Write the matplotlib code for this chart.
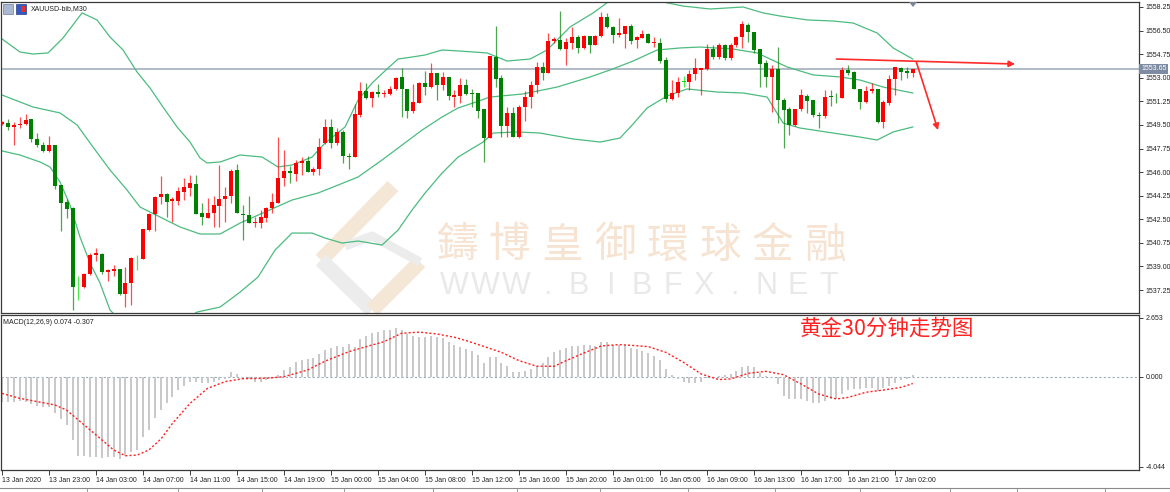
import numpy as np
import matplotlib.pyplot as plt
from matplotlib.lines import Line2D
from matplotlib.patches import Polygon, Rectangle
from matplotlib.transforms import blended_transform_factory

plt.rcParams['font.family'] = ['Liberation Sans', 'DejaVu Sans']

# XAUUSD M30 candles, 13 Jan 2020 00:00 onwards
opens = [1549.60, 1549.62, 1549.32, 1549.50, 1549.55, 1549.94, 1548.46, 1548.00, 1547.57, 1548.00,
         1545.05, 1543.78, 1543.32, 1537.45, 1537.45, 1538.42, 1539.83, 1539.93, 1538.57, 1538.66,
         1538.81, 1536.94, 1537.75, 1539.60, 1539.55, 1541.70, 1542.89, 1544.15, 1544.35, 1543.85,
         1543.85, 1544.55, 1544.85, 1545.14, 1542.94, 1542.62, 1542.94, 1543.48, 1543.97, 1544.23,
         1546.16, 1542.90, 1542.82, 1542.20, 1542.20, 1542.57, 1543.32, 1543.73, 1545.54, 1546.11,
         1545.86, 1546.65, 1546.82, 1546.01, 1546.26, 1548.14, 1549.32, 1548.18, 1549.00, 1547.20,
         1547.10, 1550.24, 1552.02, 1551.52, 1551.95, 1551.77, 1551.80, 1552.14, 1553.08, 1552.14,
         1550.53, 1551.15, 1552.59, 1552.30, 1553.33, 1552.46, 1553.08, 1551.60, 1551.67, 1552.46,
         1551.85, 1551.85, 1550.66, 1548.51, 1554.57, 1552.96, 1549.42, 1550.41, 1548.63, 1550.85,
         1551.60, 1552.46, 1553.82, 1553.37, 1555.73, 1555.80, 1555.16, 1555.60, 1556.00, 1555.18,
         1556.10, 1555.43, 1556.10, 1557.49, 1556.79, 1556.17, 1556.22, 1556.84, 1555.80, 1555.93,
         1556.22, 1555.55, 1555.60, 1554.32, 1551.40, 1551.90, 1552.70, 1552.70, 1553.28, 1553.60,
         1553.63, 1555.10, 1554.57, 1555.43, 1554.45, 1555.43, 1556.05, 1556.92, 1556.42, 1555.10,
         1554.07, 1553.08, 1553.63, 1551.35, 1550.66, 1549.50, 1550.66, 1551.65, 1551.35, 1550.24,
         1550.16, 1551.65, 1551.60, 1551.52, 1553.58, 1553.45, 1552.14, 1551.23, 1552.04, 1552.14,
         1549.74, 1551.15, 1552.91, 1553.70, 1553.50, 1553.38]
highs = [1549.80, 1549.94, 1549.74, 1550.10, 1550.30, 1549.94, 1548.90, 1548.25, 1548.70, 1548.00,
         1545.05, 1544.00, 1543.45, 1538.30, 1538.55, 1540.00, 1540.37, 1540.00, 1538.79, 1539.10,
         1538.81, 1538.98, 1539.72, 1539.88, 1541.78, 1542.95, 1544.23, 1545.70, 1544.43, 1544.13,
         1544.88, 1545.54, 1545.79, 1545.79, 1543.69, 1544.05, 1544.23, 1546.53, 1544.92, 1546.22,
         1546.60, 1543.56, 1544.20, 1542.69, 1543.19, 1543.45, 1544.43, 1548.58, 1547.64, 1546.45,
         1546.90, 1547.10, 1547.17, 1546.40, 1548.50, 1549.92, 1549.92, 1549.30, 1549.12, 1547.44,
         1551.05, 1552.69, 1552.59, 1552.02, 1552.54, 1552.10, 1552.39, 1553.08, 1553.70, 1552.14,
         1552.54, 1552.70, 1553.50, 1554.07, 1553.38, 1553.45, 1553.08, 1552.10, 1553.00, 1552.90,
         1552.17, 1551.90, 1550.66, 1554.62, 1556.84, 1553.20, 1550.80, 1550.80, 1550.98, 1552.04,
         1552.76, 1554.19, 1554.19, 1556.30, 1556.00, 1557.98, 1555.93, 1556.80, 1556.17, 1556.20,
         1556.10, 1556.20, 1557.90, 1557.80, 1556.84, 1557.41, 1556.84, 1556.98, 1556.10, 1556.55,
         1556.30, 1556.00, 1555.93, 1554.52, 1552.83, 1553.08, 1553.13, 1553.58, 1554.45, 1553.70,
         1555.50, 1555.43, 1555.60, 1555.50, 1555.60, 1556.10, 1557.24, 1557.04, 1556.42, 1555.10,
         1554.32, 1553.95, 1555.30, 1551.48, 1550.85, 1550.70, 1552.14, 1551.80, 1551.35, 1550.48,
         1552.09, 1552.10, 1551.90, 1553.82, 1553.95, 1553.50, 1552.20, 1552.40, 1552.60, 1552.14,
         1551.35, 1553.20, 1553.82, 1553.82, 1553.82, 1553.63]
lows = [1549.50, 1549.12, 1548.00, 1549.30, 1549.50, 1548.24, 1547.86, 1547.50, 1547.50, 1544.75,
        1541.60, 1542.60, 1535.77, 1536.50, 1537.40, 1538.37, 1539.40, 1538.44, 1537.92, 1538.32,
        1536.89, 1536.02, 1536.14, 1538.74, 1539.55, 1541.60, 1541.65, 1543.60, 1542.69, 1542.32,
        1543.56, 1543.93, 1544.23, 1542.89, 1542.10, 1542.57, 1541.90, 1541.95, 1542.32, 1543.69,
        1542.94, 1540.96, 1542.20, 1541.95, 1541.82, 1542.32, 1542.99, 1543.69, 1544.97, 1545.22,
        1545.37, 1545.77, 1546.01, 1545.79, 1545.79, 1548.09, 1547.77, 1548.00, 1546.65, 1546.21,
        1547.10, 1550.11, 1551.40, 1550.85, 1551.60, 1551.55, 1551.72, 1552.09, 1550.07, 1550.00,
        1550.41, 1551.10, 1551.72, 1552.22, 1551.35, 1552.09, 1551.35, 1550.80, 1551.10, 1551.70,
        1550.85, 1549.99, 1546.73, 1548.51, 1552.30, 1548.63, 1548.63, 1548.63, 1548.51, 1549.81,
        1550.73, 1551.90, 1552.83, 1553.33, 1555.60, 1555.06, 1553.95, 1555.10, 1554.81, 1555.10,
        1554.81, 1555.40, 1556.05, 1556.70, 1555.55, 1556.05, 1555.20, 1555.50, 1555.20, 1555.93,
        1555.55, 1555.30, 1554.12, 1551.23, 1551.35, 1551.55, 1552.30, 1552.09, 1552.83, 1551.72,
        1553.60, 1554.37, 1554.40, 1554.32, 1554.32, 1555.30, 1555.18, 1555.68, 1554.81, 1552.30,
        1552.30, 1550.48, 1549.62, 1547.77, 1548.77, 1549.45, 1550.56, 1550.36, 1550.11, 1549.25,
        1549.99, 1550.90, 1551.10, 1551.52, 1553.20, 1552.14, 1550.66, 1551.10, 1551.90, 1549.67,
        1549.25, 1551.00, 1551.72, 1552.83, 1552.96, 1553.08]
closes = [1549.70, 1549.32, 1549.52, 1549.60, 1549.87, 1548.46, 1548.00, 1547.60, 1548.00, 1545.00,
          1543.73, 1543.27, 1537.45, 1537.45, 1538.44, 1539.88, 1539.98, 1538.57, 1538.74, 1538.79,
          1536.94, 1537.80, 1539.60, 1539.60, 1541.78, 1542.90, 1544.17, 1544.35, 1543.78, 1543.97,
          1544.60, 1544.92, 1545.17, 1542.89, 1542.69, 1542.99, 1543.56, 1543.97, 1544.23, 1546.11,
          1542.94, 1542.80, 1542.20, 1542.32, 1542.69, 1543.32, 1543.78, 1545.54, 1546.11, 1545.91,
          1546.70, 1546.82, 1546.01, 1546.21, 1547.84, 1549.32, 1548.18, 1549.00, 1547.20, 1547.15,
          1550.31, 1552.02, 1551.48, 1551.95, 1551.77, 1551.90, 1552.17, 1553.00, 1552.14, 1550.56,
          1551.23, 1552.59, 1552.30, 1553.33, 1552.46, 1553.08, 1551.65, 1551.72, 1552.46, 1551.80,
          1551.80, 1550.53, 1548.51, 1554.62, 1552.89, 1549.42, 1550.41, 1548.63, 1550.85, 1551.60,
          1552.46, 1553.82, 1553.33, 1555.73, 1555.85, 1555.12, 1555.68, 1556.00, 1555.18, 1556.10,
          1555.43, 1556.10, 1557.49, 1556.79, 1556.17, 1556.30, 1556.84, 1555.75, 1556.00, 1556.22,
          1555.55, 1555.65, 1554.25, 1551.40, 1551.85, 1552.70, 1552.70, 1553.28, 1553.70, 1553.70,
          1555.10, 1554.57, 1555.43, 1554.45, 1555.43, 1556.00, 1556.99, 1556.42, 1555.06, 1554.00,
          1553.08, 1553.63, 1551.35, 1550.61, 1549.50, 1550.66, 1551.72, 1551.30, 1550.24, 1550.20,
          1551.60, 1551.55, 1551.55, 1553.58, 1553.38, 1552.14, 1551.23, 1552.04, 1552.14, 1549.74,
          1551.23, 1552.91, 1553.77, 1553.45, 1553.38, 1553.65]

# Bollinger bands (20, 2): bar position and price pairs along each band
bb_upper_x = [0, 3.06, 5.28, 7.83, 10.38, 13.62, 16.17, 18.38, 20.6, 22.98, 25.19, 27.4, 29.79,
              32.0, 33.7, 34.89, 37.11, 40.51, 44.26, 46.98, 49.36, 52.77, 54.98, 58.38, 60.6,
              62.98, 65.7, 67.4, 69.79, 72.0, 74.89, 77.62, 82.55, 85.96, 89.87, 92.77, 96.68,
              100.6, 103.15, 107.74, 112.51, 115.91, 120.51, 126.13, 129.53, 132.43, 137.02,
              141.45, 144.85, 148.94, 151.66, 155]
bb_upper = [1555.88, 1554.91, 1554.76, 1554.84, 1555.95, 1557.81, 1557.29, 1556.02, 1555.06,
            1553.43, 1552.24, 1550.83, 1549.35, 1548.23, 1547.05, 1546.68, 1546.75, 1547.27,
            1547.12, 1546.38, 1546.53, 1547.12, 1548.16, 1549.35, 1551.35, 1552.61, 1553.72,
            1554.39, 1554.54, 1554.69, 1555.06, 1554.99, 1554.84, 1554.24, 1554.39, 1555.06,
            1556.77, 1557.81, 1558.62, 1559.36, 1558.62, 1558.32, 1558.10, 1558.25, 1557.81,
            1557.58, 1557.29, 1557.21, 1557.06, 1556.32, 1555.21, 1554.39]
bb_middle_x = [0, 5.28, 9.87, 12.77, 15.49, 18.38, 21.28, 23.49, 26.89, 30.3, 33.7, 37.11, 40.51,
               44.77, 49.36, 53.79, 57.19, 60.6, 64.68, 68.09, 71.49, 74.89, 77.62, 80.17, 83.06,
               88.68, 94.47, 100.09, 103.49, 107.4, 111.49, 115.4, 118.81, 124.43, 128.51,
               133.62, 138.04, 142.64, 146.04, 149.96, 155]
bb_middle = [1551.72, 1550.83, 1550.39, 1549.50, 1547.86, 1546.16, 1544.67, 1543.41, 1542.67,
             1541.93, 1541.41, 1541.41, 1542.22, 1543.04, 1543.93, 1544.45, 1545.04, 1545.64,
             1546.90, 1548.01, 1549.12, 1550.09, 1550.76, 1551.13, 1551.57, 1551.80, 1552.31,
             1553.06, 1553.58, 1554.24, 1555.06, 1555.21, 1555.28, 1555.13, 1554.84, 1553.80,
             1553.21, 1553.06, 1552.83, 1552.31, 1551.87]
bb_lower_x = [0, 3.06, 6.47, 8.17, 9.87, 11.57, 13.28, 14.98, 16.68, 18.38, 21.79, 25.19, 28.6,
              33.19, 37.11, 40.51, 43.57, 46.47, 49.36, 52.77, 54.98, 57.87, 60.6, 64.68, 67.4,
              69.79, 72.0, 74.89, 77.62, 81.87, 83.57, 87.66, 91.57, 97.19, 101.79, 105.19,
              107.4, 109.79, 113.19, 116.6, 121.7, 126.13, 130.21, 132.94, 135.83, 141.45,
              146.04, 148.94, 151.66, 155]
bb_lower = [1547.57, 1547.27, 1546.75, 1546.38, 1545.27, 1543.56, 1541.18, 1539.26, 1537.77,
            1535.77, 1534.28, 1533.76, 1534.28, 1535.62, 1535.99, 1537.10, 1538.22, 1540.22,
            1541.48, 1541.48, 1541.11, 1540.74, 1540.89, 1540.59, 1541.70, 1543.19, 1544.45,
            1545.93, 1547.12, 1548.23, 1548.90, 1548.98, 1548.90, 1548.46, 1548.23, 1548.53,
            1549.57, 1550.76, 1551.65, 1552.17, 1551.94, 1551.87, 1551.57, 1549.64, 1549.27,
            1548.90, 1548.60, 1548.38, 1548.98, 1549.35]

# MACD(12,26,9) main line, drawn as histogram
macd_main = [-1.12, -1.15, -1.15, -1.10, -1.15, -1.21, -1.33, -1.36, -1.36, -1.65,
             -1.91, -2.17, -2.84, -3.56, -3.56, -3.59, -3.62, -3.65, -3.62, -3.59,
             -3.68, -3.56, -3.36, -3.28, -2.71, -2.38, -1.86, -1.48, -1.19, -0.89,
             -0.62, -0.42, -0.22, -0.22, -0.27, -0.27, -0.22, -0.15, -0.12, 0.22,
             0.12, -0.07, -0.12, -0.22, -0.22, -0.15, -0.07, 0.07, 0.30, 0.45,
             0.64, 0.75, 0.78, 0.82, 1.03, 1.20, 1.27, 1.38, 1.35, 1.47,
             1.35, 1.69, 1.84, 1.96, 1.99, 2.08, 2.10, 2.17,
             2.10, 1.92, 1.81, 1.80, 1.77, 1.81, 1.77, 1.72, 1.55, 1.42,
             1.35, 1.24, 1.14, 0.96, 0.60, 0.87, 0.90, 0.60, 0.47, 0.20,
             0.20, 0.25, 0.35, 0.50, 0.60, 0.90, 1.10, 1.20, 1.29, 1.38,
             1.38, 1.42, 1.42, 1.39, 1.54, 1.56, 1.44, 1.44, 1.44, 1.29,
             1.24, 1.17, 1.05, 0.94, 0.75, 0.35, 0.08, -0.10, -0.25, -0.30,
             -0.30, -0.25, -0.07, -0.04, 0.02, 0.06, 0.13, 0.25, 0.43, 0.47,
             0.43, 0.18, 0.03, -0.07, -0.31, -0.86, -1.01, -1.01, -1.01, -1.11,
             -1.16, -1.17, -1.11, -1.01, -1.01, -0.78, -0.60, -0.56, -0.56, -0.52,
             -0.52, -0.64, -0.52, -0.42, -0.27, -0.16, -0.12, 0.074]
sig_idx = [0, 3, 6, 9, 11, 14, 17, 19, 21, 23, 25, 27, 29, 32, 35, 38, 41, 45, 48, 52,
           55, 59, 62, 65, 68, 71, 74, 77, 79, 82, 85, 88, 91, 94, 96, 99, 102, 105, 107, 110,
           113, 116, 119, 122, 124, 127, 130, 133, 136, 139, 142, 144, 147, 150, 153, 155]
macd_signal = [-0.75, -0.97, -1.12, -1.27, -1.50, -2.17, -2.84, -3.29, -3.55, -3.52,
               -3.29, -2.81, -2.10, -1.20, -0.52, -0.22, -0.09, -0.07, 0.00, 0.30,
               0.70, 1.12, 1.35, 1.57, 1.95, 2.00, 1.92, 1.77, 1.62, 1.36,
               1.09, 0.72, 0.47, 0.47, 0.72, 1.06, 1.38, 1.44, 1.41, 1.35,
               1.09, 0.64, 0.12, -0.13, -0.10, 0.15, 0.24, 0.09, -0.33, -0.78,
               -1.00, -0.93, -0.70, -0.60, -0.48, -0.307]

time_labels = ['13 Jan 2020', '13 Jan 23:00', '14 Jan 03:00', '14 Jan 07:00', '14 Jan 11:00',
               '14 Jan 15:00', '14 Jan 19:00', '15 Jan 00:00', '15 Jan 04:00', '15 Jan 08:00',
               '15 Jan 12:00', '15 Jan 16:00', '15 Jan 20:00', '16 Jan 01:00', '16 Jan 05:00',
               '16 Jan 09:00', '16 Jan 13:00', '16 Jan 17:00', '16 Jan 21:00', '17 Jan 02:00']
price_ticks = [1558.25, 1556.50, 1554.75, 1553.00, 1551.25, 1549.50, 1547.75, 1546.00,
               1544.25, 1542.50, 1540.75, 1539.00, 1537.25]
macd_ticks = [2.653, 0.0, -4.044]

W, H = 1170, 492


def fpx(x, y):
    # figure pixel -> figure fraction
    return x / W, 1 - y / H


fig = plt.figure(figsize=(W / 100, H / 100), dpi=100)
fig.patch.set_facecolor('white')

ax = fig.add_axes([1 / W, 1 - 313 / H, 1138 / W, 311 / H])
ax2 = fig.add_axes([1 / W, 1 - 470 / H, 1138 / W, 155 / H])

n = len(closes)
idx = np.arange(n)
o, h, l, c = (np.array(v) for v in (opens, highs, lows, closes))
xlim = (-0.17, 193.5)

# watermark behind the chart
wm_beige = '#f5e7d6'
wm_gray = '#ececec'
for pts, col, lw in [([(393, 186), (321, 260)], wm_beige, 15),
                     ([(321, 260), (372, 310)], wm_gray, 15),
                     ([(372, 310), (420, 262)], wm_beige, 15),
                     ([(345, 246), (372, 236), (420, 262)], wm_gray, 9)]:
    xs, ys = zip(*[fpx(px, py) for px, py in pts])
    fig.add_artist(Line2D(xs, ys, color=col, lw=lw * 0.72, solid_capstyle='butt', zorder=0))
for k, ch in enumerate('鑄博皇御環球金融'):
    fig.text(*fpx(457 + 52.6 * k, 246), ch, fontsize=30, color='#f6e3d1',
             family=['Noto Sans CJK TC'], ha='center', va='center', zorder=0)
for k, ch in enumerate('WWW.BIBFX.NET'):
    fig.text(*fpx(454 + 31.2 * k, 286), ch, fontsize=22, color='#e9e9e9',
             family=['Liberation Sans'], ha='center', va='center', zorder=0)
ax.set_facecolor('none')
ax2.set_facecolor('none')

# Bollinger bands
for bx, band in ((bb_upper_x, bb_upper), (bb_middle_x, bb_middle), (bb_lower_x, bb_lower)):
    ax.plot(bx, band, color='#4cbb7f', lw=0.9, zorder=2)

# candles: red up, green down, lime doji
cols = np.where(c > o, '#ff0000', np.where(c < o, '#008000', '#00e000'))
ax.vlines(idx, l, h, colors=cols, lw=0.9, alpha=0.7, zorder=3)
body = np.maximum(np.abs(c - o), 0.04)
ax.bar(idx, body, bottom=np.minimum(o, c), width=0.68, color=cols, lw=0, zorder=4)

# last price line
last = closes[-1]
ax.axhline(last, color='#aab5c3', lw=1.3, zorder=1)
trans = blended_transform_factory(ax.transAxes, ax.transData)
ax.text(1.0 + 2 / 1138, last, f'{last:.2f}', transform=trans, fontsize=5, color='white',
        ha='left', va='center', clip_on=False, zorder=6,
        bbox=dict(boxstyle='square,pad=0.25', fc='#7d8ca3', ec='none'))

# trend arrows
arrow = dict(arrowstyle='-|>', color='#ff2a2a', lw=1.2, mutation_scale=9, shrinkA=0, shrinkB=0)
ax.annotate('', xy=(172.4, 1554.02), xytext=(142.0, 1554.39), arrowprops=arrow, zorder=7)
ax.annotate('', xy=(159.3, 1549.12), xytext=(155.6, 1554.17), arrowprops=arrow, zorder=7)

ax.set_xlim(*xlim)
ax.set_ylim(1535.55, 1558.62)
ax.set_xticks([])
ax.yaxis.tick_right()
ax.set_yticks(price_ticks)
ax.set_yticklabels([f'{v:.2f}' for v in price_ticks])
ax.tick_params(axis='y', length=3, width=0.6, pad=1.5, labelsize=5, colors='#202020')

# MACD panel
ax2.axhline(0, color='#9ea9ba', lw=0.8, ls=(0, (2, 2)), zorder=1)
ax2.vlines(idx, 0, macd_main, colors='#c4c4c4', lw=1.3, zorder=2)
ax2.plot(sig_idx, macd_signal, color='#ff2020', lw=1.0, ls=(0, (1.5, 1.5)), zorder=3)
ax2.set_xlim(*xlim)
ax2.set_ylim(-4.19, 2.77)
ax2.yaxis.tick_right()
ax2.set_yticks(macd_ticks)
ax2.set_yticklabels([f'{v:.3f}' for v in macd_ticks])
ax2.tick_params(axis='y', length=3, width=0.6, pad=1.5, labelsize=5, colors='#202020')
ax2.set_xticks(np.arange(0, 8 * len(time_labels), 8))
ax2.set_xticklabels(time_labels)
ax2.tick_params(axis='x', length=3.5, width=0.6, pad=1.5, labelsize=5, colors='#202020')
plt.setp(ax2.get_xticklabels(), ha='left')
ax2.text(0.002, 0.975, 'MACD(12,26,9) 0.074 -0.307', transform=ax2.transAxes,
         fontsize=5, va='top', ha='left', color='#202020')

for a in (ax, ax2):
    for s in a.spines.values():
        s.set_color('#3a3a3a')
        s.set_linewidth(0.9)

# chart header
fig.add_artist(Rectangle(fpx(3, 14), 10 / W, 10 / H, fc='#a9b7d0', ec='#6f7f99', lw=0.5))
fig.add_artist(Rectangle(fpx(16, 14), 10 / W, 10 / H, fc='#3358c4', ec='#2a3f80', lw=0.5))
fig.add_artist(Rectangle(fpx(21, 12), 4 / W, 6 / H, fc='#e03030', ec='none'))
fig.text(*fpx(31, 9), 'XAUUSD-bib,M30', fontsize=5, va='center', ha='left', color='#202020')
fig.add_artist(Polygon([fpx(909, 2), fpx(917, 2), fpx(913, 7)], closed=True, fc='#7a8594', ec='none'))

fig.text(*fpx(800, 329), '黄金30分钟走势图', fontsize=15.5, color='#ff2222',
         family=['Noto Sans CJK SC'], va='center', ha='left')

# tab strip along the bottom
fig.add_artist(Line2D([0, 1], [1 - 488 / H] * 2, color='#8c8c8c', lw=0.8))
for sx in [87, 178, 262, 344, 433, 517, 600, 688, 775, 860, 950, 1017, 1105]:
    fig.add_artist(Line2D([sx / W] * 2, [1 - 488 / H, 0], color='#8c8c8c', lw=0.6))

fig.savefig('out.png', dpi=100)
